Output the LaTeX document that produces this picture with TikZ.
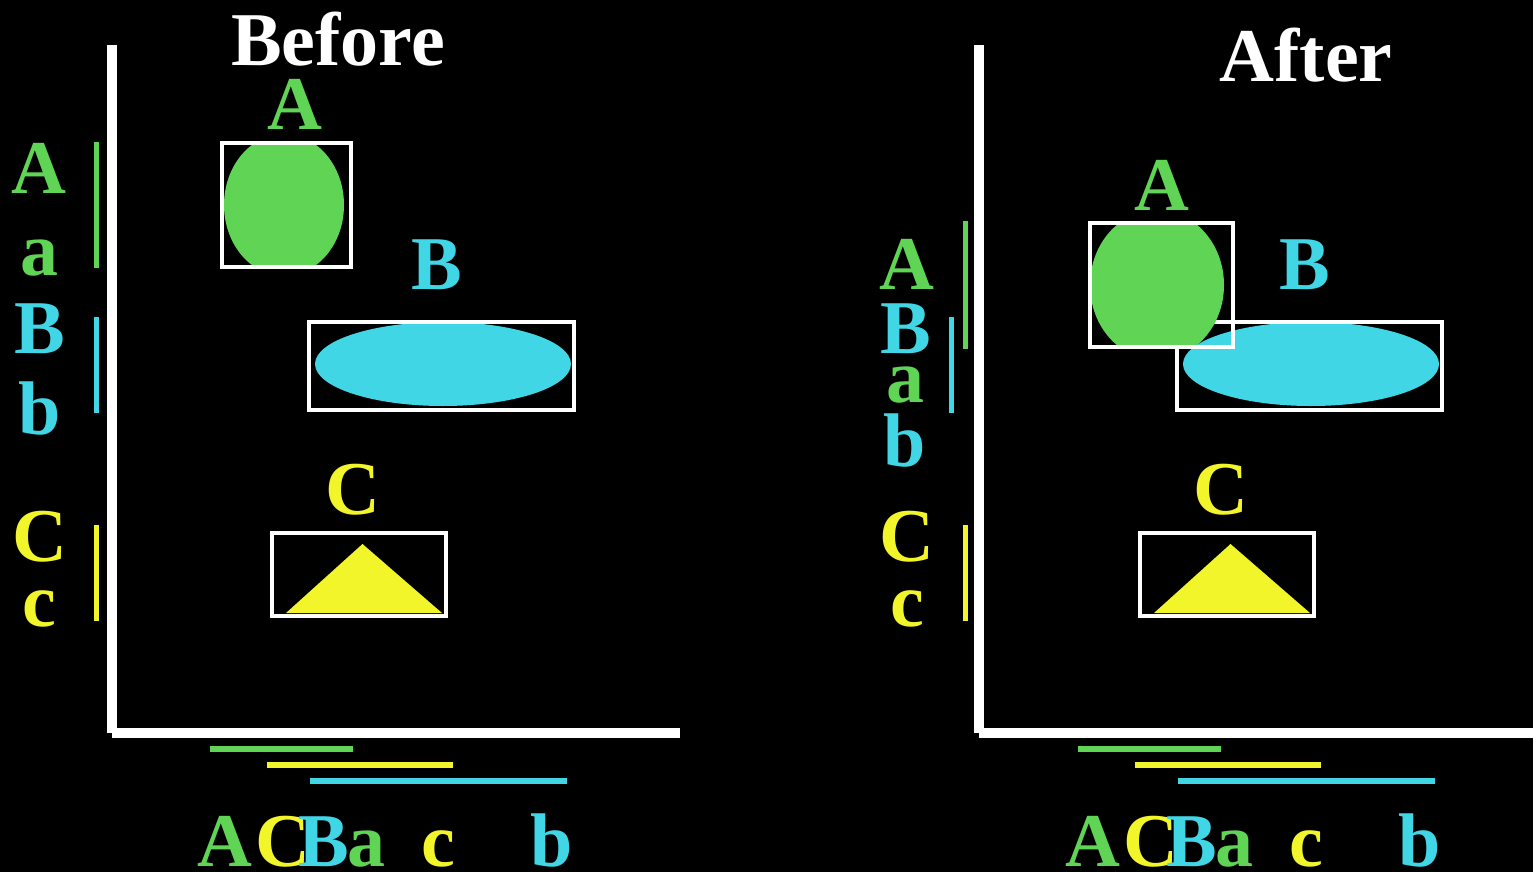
\documentclass[tikz,border=0pt]{standalone}
\usepackage{fontspec}
\setmainfont{Liberation Serif}
\definecolor{lgreen}{HTML}{60D455}
\definecolor{lcyan}{HTML}{40D6E6}
\definecolor{lyellow}{HTML}{F2F52A}
\tikzset{
  lbl/.style={anchor=base, inner sep=0pt, font=\fontsize{76}{76}\selectfont\bfseries},
  frame/.style={draw=white, line width=4pt},
  axis/.style={draw=white, line width=10pt},
  sidebar/.style={line width=5pt},
  spanbar/.style={line width=6pt},
}
\begin{document}
\begin{tikzpicture}[x=1pt,y=-1pt]
\fill[black] (0,0) rectangle (1533,872);
\useasboundingbox (0,0) rectangle (1533,872);

% ---------------- Before ----------------
\node[lbl, white] (t1) at (338,66) {Before};
\draw[axis] (111.5,45) -- (111.5,733);
\draw[axis] (112,733) -- (680,733);

% object A
\begin{scope}
  \clip (224,145) rectangle (349,265);
  \fill[lgreen] (284,205) ellipse [x radius=60, y radius=71];
\end{scope}
\draw[frame] (222,143) rectangle (351,267);
\node[lbl, lgreen] (la1) at (295,129) {A};

% object B
\begin{scope}
  \clip (311,324) rectangle (572,408);
  \fill[lcyan] (443,364) ellipse [x radius=128, y radius=42];
\end{scope}
\draw[frame] (309,322) rectangle (574,410);
\node[lbl, lcyan] (lb1) at (437,289) {B};

% object C
\fill[lyellow] (362.5,544) -- (442,613) -- (286,613) -- cycle;
\draw[frame] (272,533) rectangle (446,616);
\node[lbl, lyellow] (lc1) at (353,514) {C};

% vertical extents
\node[lbl, lgreen]  (ya1) at (39,193) {A};
\node[lbl, lgreen]  (ya2) at (39,275) {a};
\node[lbl, lcyan]   (yb1) at (40,353) {B};
\node[lbl, lcyan]   (yb2) at (40,434) {b};
\node[lbl, lyellow] (yc1) at (40,561) {C};
\node[lbl, lyellow] (yc2) at (39,626) {c};
\draw[sidebar, lgreen]  (96.5,142) -- (96.5,268);
\draw[sidebar, lcyan]   (96.5,317) -- (96.5,413);
\draw[sidebar, lyellow] (96.5,525) -- (96.5,621);

% horizontal extents
\draw[spanbar, lgreen]  (210,749) -- (353,749);
\draw[spanbar, lyellow] (267,765) -- (453,765);
\draw[spanbar, lcyan]   (310,781) -- (567,781);
\node[lbl, lgreen]  (xa1) at (224.5,866) {A};
\node[lbl, lyellow] (xc1) at (283,866) {C};
\node[lbl, lcyan]   (xb1) at (323.5,866) {B};
\node[lbl, lgreen]  (xa2) at (366,866) {a};
\node[lbl, lyellow] (xc2) at (438.5,866) {c};
\node[lbl, lcyan]   (xb2) at (551.5,866) {b};

% ---------------- After ----------------
\node[lbl, white] (t2) at (1306,82) {After};
\draw[axis] (978.5,45) -- (978.5,733);
\draw[axis] (979,733) -- (1533,733);

% object B
\begin{scope}
  \clip (1179,324) rectangle (1440,408);
  \fill[lcyan] (1311,364) ellipse [x radius=128, y radius=42];
\end{scope}
\draw[frame] (1177,322) rectangle (1442,410);
\node[lbl, lcyan] (lb2) at (1305,289) {B};

% object A (moved down, overlapping B)
\begin{scope}
  \clip (1092,225) rectangle (1231,345);
  \fill[lgreen] (1157,285) ellipse [x radius=67, y radius=75];
\end{scope}
\draw[frame] (1090,223) rectangle (1233,347);
\node[lbl, lgreen] (la2) at (1162,210) {A};

% object C
\fill[lyellow] (1230.5,544) -- (1310,613) -- (1154,613) -- cycle;
\draw[frame] (1140,533) rectangle (1314,616);
\node[lbl, lyellow] (lc2) at (1221,514) {C};

% vertical extents
\node[lbl, lgreen]  (ra1) at (907,289) {A};
\node[lbl, lcyan]   (rb1) at (906,353) {B};
\node[lbl, lgreen]  (ra2) at (905,402) {a};
\node[lbl, lcyan]   (rb2) at (905,466) {b};
\node[lbl, lyellow] (rc1) at (907,561) {C};
\node[lbl, lyellow] (rc2) at (907,626) {c};
\draw[sidebar, lgreen]  (965,221) -- (965,349);
\draw[sidebar, lcyan]   (951,317) -- (951,413);
\draw[sidebar, lyellow] (965,525) -- (965,621);

% horizontal extents
\draw[spanbar, lgreen]  (1078,749) -- (1221,749);
\draw[spanbar, lyellow] (1135,765) -- (1321,765);
\draw[spanbar, lcyan]   (1178,781) -- (1435,781);
\node[lbl, lgreen]  (sa1) at (1092.5,866) {A};
\node[lbl, lyellow] (sc1) at (1151,866) {C};
\node[lbl, lcyan]   (sb1) at (1191.5,866) {B};
\node[lbl, lgreen]  (sa2) at (1234,866) {a};
\node[lbl, lyellow] (sc2) at (1306.5,866) {c};
\node[lbl, lcyan]   (sb2) at (1419.5,866) {b};
\end{tikzpicture}
\end{document}
